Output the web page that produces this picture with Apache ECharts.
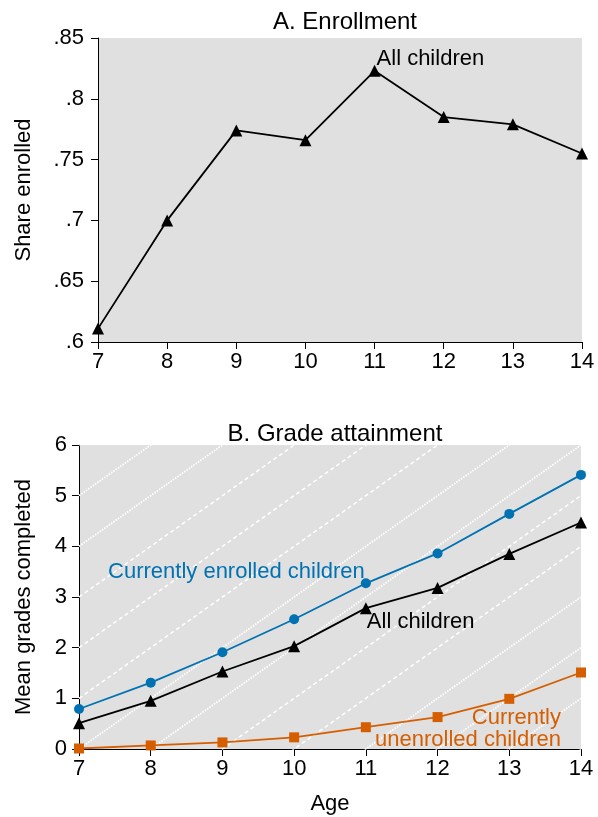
<!DOCTYPE html>
<html>
<head>
<meta charset="utf-8">
<script src="https://cdn.jsdelivr.net/npm/echarts@6/dist/echarts.min.js"></script>
<style>
  html, body { margin: 0; padding: 0; background: #fff; }
  #chart { width: 598px; height: 817px; }
</style>
</head>
<body>
<div id="chart"></div>
<script>
// Ages shown on both panels
const ages = [7, 8, 9, 10, 11, 12, 13, 14];

// Panel A: share of children enrolled, by age
const shareEnrolled = [0.611, 0.700, 0.774, 0.766, 0.823, 0.785, 0.779, 0.755];

// Panel B: mean grades completed, by age
const gradesEnrolled = [0.79, 1.31, 1.91, 2.56, 3.27, 3.86, 4.64, 5.41];
const gradesAll = [0.51, 0.95, 1.53, 2.03, 2.78, 3.18, 3.85, 4.47];
const gradesUnenrolled = [0.01, 0.07, 0.13, 0.23, 0.43, 0.63, 0.99, 1.51];

// Tick labels
const shareTicks = ['.6', '.65', '.7', '.75', '.8', '.85'];

// Grade-for-age guide lines: grades = age - startAge, one per starting age
const guideStartAges = [1, 2, 3, 4, 5, 6, 7, 8, 9, 10, 11, 12, 13, 14];
const guideDash = ['dotted', 'dotted', 'dotted', 'dashed', 'dashed', 'dashed', 'dotted',
                   'dotted', 'dashed', 'dashed', 'dotted', 'dotted', 'dotted', 'dotted'];

const BLUE = '#0072b2';
const ORANGE = '#d55e00';
const FONT = 'Liberation Sans, Arial, Helvetica, sans-serif';
const FS = 22;

const zip = (xs, ys) => xs.map((x, i) => [x, ys[i]]);

function shareFmt(v) {
  const s = String(Math.round(v * 100) / 100);
  return s.replace(/^0/, '');
}

const axisCommon = {
  axisLine: { show: true, lineStyle: { color: '#000', width: 1 } },
  axisTick: { show: true, length: 7, lineStyle: { color: '#000', width: 1 } },
  splitLine: { show: false },
  axisLabel: { color: '#000', fontSize: FS, fontFamily: FONT },
  nameTextStyle: { color: '#000', fontSize: FS, fontFamily: FONT }
};

const guideSeries = guideStartAges.map((s, i) => ({
  type: 'line',
  xAxisIndex: 1, yAxisIndex: 1,
  data: [[ages[0], ages[0] - s], [ages[ages.length - 1], ages[ages.length - 1] - s]],
  symbol: 'none',
  silent: true,
  clip: true,
  z: 1,
  lineStyle: {
    color: '#ffffff',
    width: guideDash[i] === 'dashed' ? 1.5 : 1.7,
    type: guideDash[i] === 'dashed' ? [4, 3] : [1.6, 1.2]
  }
}));

const option = {
  animation: false,
  backgroundColor: '#ffffff',
  textStyle: { fontFamily: FONT },
  title: [
    { text: 'A. Enrollment', left: 340, textAlign: 'center', top: 5,
      textStyle: { fontSize: 24, fontWeight: 'normal', color: '#000', fontFamily: FONT } },
    { text: 'B. Grade attainment', left: 330, textAlign: 'center', top: 417,
      textStyle: { fontSize: 24, fontWeight: 'normal', color: '#000', fontFamily: FONT } }
  ],
  grid: [
    { left: 98, right: 16, top: 38, height: 304, show: true,
      backgroundColor: '#e0e0e0', borderWidth: 0 },
    { left: 79, right: 17, top: 445, height: 304, show: true,
      backgroundColor: '#e0e0e0', borderWidth: 0 }
  ],
  xAxis: [
    Object.assign({}, axisCommon, {
      type: 'value', gridIndex: 0, min: 7, max: 14, interval: 1,
      axisLabel: Object.assign({}, axisCommon.axisLabel, { margin: 9 })
    }),
    Object.assign({}, axisCommon, {
      type: 'value', gridIndex: 1, min: 7, max: 14, interval: 1,
      name: 'Age', nameLocation: 'middle', nameGap: 44,
      axisLabel: Object.assign({}, axisCommon.axisLabel, { margin: 9 })
    })
  ],
  yAxis: [
    Object.assign({}, axisCommon, {
      type: 'value', gridIndex: 0, min: 0.6, max: 0.85, interval: 0.05,
      name: 'Share enrolled', nameLocation: 'middle', nameGap: 63, nameRotate: 90,
      axisLabel: Object.assign({}, axisCommon.axisLabel, {
        margin: 14,
        formatter: v => {
          const t = shareFmt(v);
          return shareTicks.indexOf(t) >= 0 ? t : '';
        }
      })
    }),
    Object.assign({}, axisCommon, {
      type: 'value', gridIndex: 1, min: 0, max: 6, interval: 1,
      name: 'Mean grades completed', nameLocation: 'middle', nameGap: 44, nameRotate: 90,
      axisLabel: Object.assign({}, axisCommon.axisLabel, { margin: 12 })
    })
  ],
  series: [
    // Panel A
    {
      type: 'line', xAxisIndex: 0, yAxisIndex: 0, z: 3,
      data: zip(ages, shareEnrolled).map((d, i) => i === 4 ? {
        value: d,
        label: { show: true, formatter: 'All children', position: 'right',
                 offset: [-9, -12], color: '#000', fontSize: FS, fontFamily: FONT }
      } : d),
      symbol: 'triangle', symbolSize: 12,
      itemStyle: { color: '#000' },
      lineStyle: { color: '#000', width: 1.8 }
    },
    // Panel B guides
    ...guideSeries,
    {
      type: 'line', xAxisIndex: 1, yAxisIndex: 1, z: 3,
      data: zip(ages, gradesEnrolled).map((d, i) => i === 2 ? {
        value: d,
        label: { show: true, formatter: 'Currently enrolled children', position: 'top',
                 offset: [14, -59], color: BLUE, fontSize: FS, fontFamily: FONT }
      } : d),
      symbol: 'circle', symbolSize: 10,
      itemStyle: { color: BLUE },
      lineStyle: { color: BLUE, width: 1.8 }
    },
    {
      type: 'line', xAxisIndex: 1, yAxisIndex: 1, z: 3,
      data: zip(ages, gradesAll).map((d, i) => i === 4 ? {
        value: d,
        label: { show: true, formatter: 'All children', position: 'right',
                 offset: [-10, 14], color: '#000', fontSize: FS, fontFamily: FONT }
      } : d),
      symbol: 'triangle', symbolSize: 12,
      itemStyle: { color: '#000' },
      lineStyle: { color: '#000', width: 1.8 }
    },
    {
      type: 'line', xAxisIndex: 1, yAxisIndex: 1, z: 3,
      data: zip(ages, gradesUnenrolled).map((d, i) => i === 7 ? {
        value: d,
        label: { show: true, formatter: 'Currently\nunenrolled children', position: 'left',
                 align: 'right', lineHeight: 22,
                 offset: [-10, 56], color: ORANGE, fontSize: FS, fontFamily: FONT }
      } : d),
      symbol: 'rect', symbolSize: 10,
      itemStyle: { color: ORANGE },
      lineStyle: { color: ORANGE, width: 1.8 }
    }
  ]
};

const chart = echarts.init(document.getElementById('chart'), null, { renderer: 'canvas' });
chart.setOption(option);
</script>
</body>
</html>
